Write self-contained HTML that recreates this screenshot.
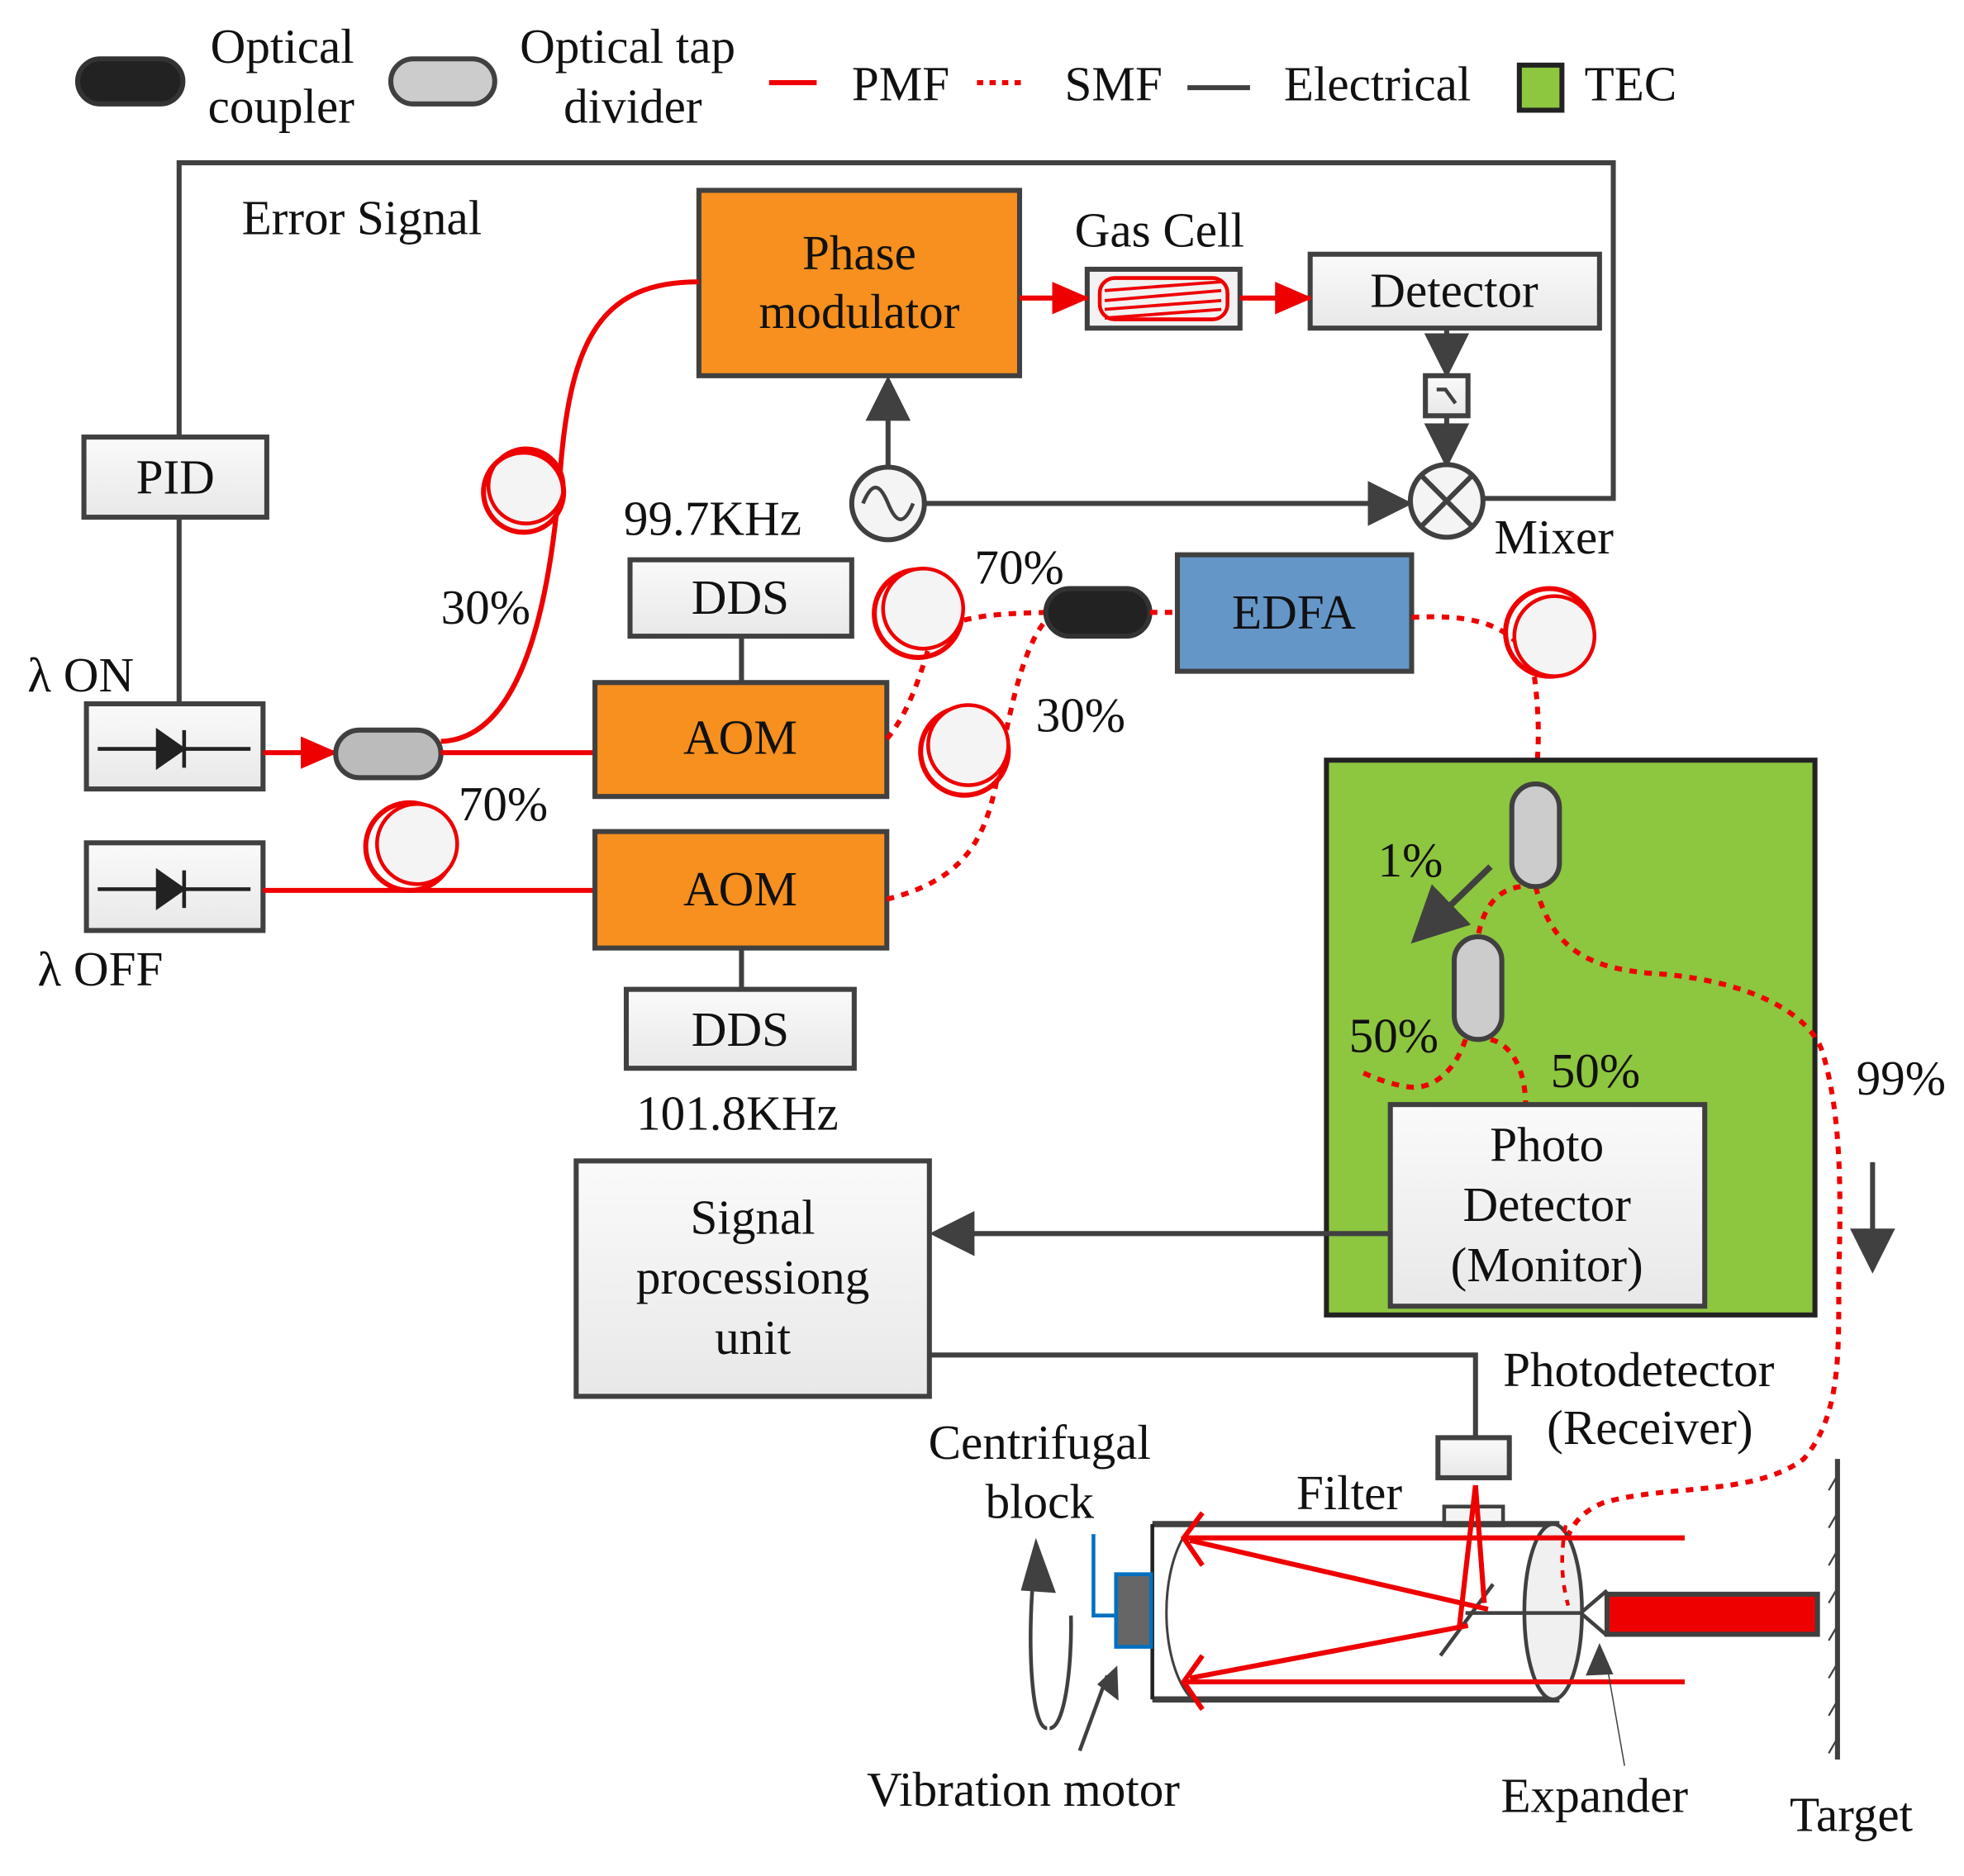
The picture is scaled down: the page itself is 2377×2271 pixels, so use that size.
<!DOCTYPE html>
<html><head><meta charset="utf-8"><style>
html,body{margin:0;padding:0;background:#fff;}
svg{display:block;}
text{font-family:"Liberation Serif",serif;font-size:39px;fill:#111;}
</style></head><body>
<svg width="2377" height="2271" viewBox="0 0 1568 1498" preserveAspectRatio="none" xmlns="http://www.w3.org/2000/svg">
<defs>
<marker id="ra" markerWidth="30" markerHeight="30" refX="28" refY="15" orient="auto" markerUnits="userSpaceOnUse" viewBox="0 0 30 30"><path d="M0,2 L30,15 L0,28 z" fill="#e00"/></marker>
<marker id="da" markerWidth="9" markerHeight="9" refX="8" refY="4.5" orient="auto" viewBox="0 0 9 9"><path d="M0,0 L9,4.5 L0,9 z" fill="#404040"/></marker>
<linearGradient id="gbox" x1="0" y1="0" x2="0" y2="1"><stop offset="0" stop-color="#fafafa"/><stop offset="1" stop-color="#e8e8e8"/></linearGradient>
</defs>
<!-- legend -->
<rect x="62" y="47" width="84" height="36" rx="18" fill="#222" stroke="#333" stroke-width="4"/>
<text x="168" y="50">Optical</text><text x="166" y="98">coupler</text>
<rect x="312" y="47" width="83" height="36" rx="18" fill="#ccc" stroke="#404040" stroke-width="4"/>
<text x="415" y="50">Optical tap</text><text x="450" y="98">divider</text>
<line x1="614" y1="66" x2="652" y2="66" stroke="#e00" stroke-width="4"/>
<text x="680" y="80">PMF</text>
<line x1="780" y1="66" x2="818" y2="66" stroke="#e00" stroke-width="4" stroke-dasharray="5,5"/>
<text x="850" y="80">SMF</text>
<line x1="948" y1="70" x2="998" y2="70" stroke="#404040" stroke-width="4"/>
<text x="1025" y="80">Electrical</text>
<rect x="1213" y="52" width="34" height="36" fill="#8dc63f" stroke="#222" stroke-width="4"/>
<text x="1265" y="80">TEC</text>

<!-- feedback loop -->
<polyline points="143,348 143,130 1288,130 1288,398 1185,398" fill="none" stroke="#404040" stroke-width="4"/>
<text x="193" y="187">Error Signal</text>

<!-- phase modulator -->
<rect x="558" y="152" width="256" height="148" fill="#f7901e" stroke="#404040" stroke-width="4"/>
<text x="686" y="215" text-anchor="middle">Phase</text><text x="686" y="262" text-anchor="middle">modulator</text>
<text x="858" y="197">Gas Cell</text>
<rect x="868" y="215" width="122" height="47" fill="#f2f2f2" stroke="#404040" stroke-width="4"/>
<rect x="878" y="222" width="102" height="33" rx="12" fill="none" stroke="#e00" stroke-width="3"/>
<path d="M882,232 L975,225 M882,240 L975,232 M882,247 L975,240 M882,254 L975,247" stroke="#e00" stroke-width="2.5"/>
<rect x="1046" y="203" width="231" height="59" fill="url(#gbox)" stroke="#404040" stroke-width="4"/>
<text x="1161" y="245" text-anchor="middle">Detector</text>
<line x1="814" y1="238" x2="868" y2="238" stroke="#e00" stroke-width="4" marker-end="url(#ra)"/>
<line x1="990" y1="238" x2="1046" y2="238" stroke="#e00" stroke-width="4" marker-end="url(#ra)"/>
<line x1="1155" y1="262" x2="1155" y2="298" stroke="#404040" stroke-width="4" marker-end="url(#da)"/>
<rect x="1138" y="300" width="34" height="32" fill="url(#gbox)" stroke="#404040" stroke-width="4"/>
<path d="M1147,311 L1154,311 L1162,322" fill="none" stroke="#404040" stroke-width="3"/>
<line x1="1155" y1="332" x2="1155" y2="370" stroke="#404040" stroke-width="4" marker-end="url(#da)"/>
<circle cx="1155" cy="400" r="29" fill="#f4f4f4" stroke="#404040" stroke-width="4"/>
<path d="M1135,380 L1175,420 M1175,380 L1135,420" stroke="#404040" stroke-width="4"/>
<text x="1193" y="442">Mixer</text>
<circle cx="709" cy="402" r="29" fill="#f4f4f4" stroke="#404040" stroke-width="4"/>
<path d="M689,402 C696,385 702,385 709,402 C716,419 722,419 729,402" fill="none" stroke="#404040" stroke-width="3"/>
<line x1="709" y1="372" x2="709" y2="304" stroke="#404040" stroke-width="4" marker-end="url(#da)"/>
<line x1="738" y1="402" x2="1124" y2="402" stroke="#404040" stroke-width="4" marker-end="url(#da)"/>

<!-- PID & lasers -->
<rect x="67" y="349" width="146" height="64" fill="url(#gbox)" stroke="#404040" stroke-width="4"/>
<text x="140" y="394" text-anchor="middle">PID</text>
<line x1="143" y1="413" x2="143" y2="562" stroke="#404040" stroke-width="4"/>
<text x="22" y="552">λ ON</text>
<rect x="69" y="562" width="141" height="68" fill="url(#gbox)" stroke="#404040" stroke-width="4"/>
<path d="M78,598 L200,598" stroke="#222" stroke-width="3"/><path d="M126,584 L146,598 L126,612 z M147,583 L147,613" fill="#222" stroke="#222" stroke-width="3"/>
<text x="30" y="787">λ OFF</text>
<rect x="69" y="673" width="141" height="70" fill="url(#gbox)" stroke="#404040" stroke-width="4"/>
<path d="M78,710 L200,710" stroke="#222" stroke-width="3"/><path d="M126,696 L146,710 L126,724 z M147,695 L147,725" fill="#222" stroke="#222" stroke-width="3"/>
<line x1="210" y1="601" x2="268" y2="601" stroke="#e00" stroke-width="4" marker-end="url(#ra)"/>
<rect x="268" y="583" width="84" height="38" rx="19" fill="#bbb" stroke="#404040" stroke-width="4"/>
<line x1="352" y1="601" x2="475" y2="601" stroke="#e00" stroke-width="4"/>
<path d="M352,592 C420,590 440,470 447,380 C455,270 480,225 558,225" fill="none" stroke="#e00" stroke-width="4"/>
<circle cx="418" cy="393" r="32" fill="#f4f4f4" stroke="#e00" stroke-width="4"/>
<circle cx="420" cy="388" r="30" fill="none" stroke="#e00" stroke-width="3"/>
<text x="352" y="498">30%</text>
<line x1="210" y1="711" x2="475" y2="711" stroke="#e00" stroke-width="4"/>
<circle cx="327" cy="676" r="35" fill="none" stroke="#e00" stroke-width="4"/>
<circle cx="333" cy="674" r="32" fill="#f4f4f4" stroke="#e00" stroke-width="3"/>
<text x="366" y="655">70%</text>

<!-- AOMs / DDS -->
<text x="498" y="427">99.7KHz</text>
<rect x="503" y="447" width="177" height="61" fill="url(#gbox)" stroke="#404040" stroke-width="4"/>
<text x="591" y="490" text-anchor="middle">DDS</text>
<line x1="592" y1="508" x2="592" y2="545" stroke="#404040" stroke-width="4"/>
<rect x="475" y="545" width="233" height="91" fill="#f7901e" stroke="#404040" stroke-width="4"/>
<text x="591" y="602" text-anchor="middle">AOM</text>
<rect x="475" y="664" width="233" height="93" fill="#f7901e" stroke="#404040" stroke-width="4"/>
<text x="591" y="723" text-anchor="middle">AOM</text>
<line x1="592" y1="757" x2="592" y2="790" stroke="#404040" stroke-width="4"/>
<rect x="500" y="790" width="182" height="63" fill="url(#gbox)" stroke="#404040" stroke-width="4"/>
<text x="591" y="835" text-anchor="middle">DDS</text>
<text x="508" y="902">101.8KHz</text>

<!-- SMF combining -->
<path d="M708,590 C725,570 735,540 745,505 C770,490 805,490 835,489" fill="none" stroke="#e00" stroke-width="4" stroke-dasharray="6,6"/>
<circle cx="733" cy="490" r="35" fill="none" stroke="#e00" stroke-width="4"/>
<circle cx="737" cy="486" r="32" fill="#f4f4f4" stroke="#e00" stroke-width="3"/>
<path d="M708,718 C780,700 790,660 800,600 C810,550 820,510 838,492" fill="none" stroke="#e00" stroke-width="4" stroke-dasharray="6,6"/>
<circle cx="770" cy="600" r="35" fill="none" stroke="#e00" stroke-width="4"/>
<circle cx="773" cy="595" r="32" fill="#f4f4f4" stroke="#e00" stroke-width="3"/>
<text x="778" y="466">70%</text>
<text x="827" y="584">30%</text>
<rect x="835" y="470" width="83" height="38" rx="19" fill="#222" stroke="#333" stroke-width="4"/>
<line x1="918" y1="489" x2="940" y2="489" stroke="#e00" stroke-width="4" stroke-dasharray="6,6"/>
<rect x="940" y="443" width="187" height="93" fill="#6596c8" stroke="#404040" stroke-width="4"/>
<text x="1033" y="502" text-anchor="middle">EDFA</text>
<path d="M1127,493 C1180,490 1215,500 1225,540 C1230,580 1228,600 1226,626" fill="none" stroke="#e00" stroke-width="4" stroke-dasharray="6,6"/>
<circle cx="1237" cy="505" r="35" fill="none" stroke="#e00" stroke-width="4"/>
<circle cx="1241" cy="508" r="32" fill="#f4f4f4" stroke="#e00" stroke-width="3"/>

<!-- TEC -->
<rect x="1059" y="607" width="390" height="443" fill="#8dc63f" stroke="#222" stroke-width="4"/>
<path d="M1226,708 C1200,705 1185,720 1180,748" fill="none" stroke="#e00" stroke-width="4" stroke-dasharray="6,6"/>
<path d="M1226,708 C1240,760 1270,775 1330,778 C1400,785 1445,810 1455,840 C1470,890 1470,950 1468,1020 C1468,1080 1470,1130 1440,1165 C1400,1195 1330,1185 1280,1200 C1255,1210 1245,1230 1245,1270" fill="none" stroke="#e00" stroke-width="4" stroke-dasharray="6,6"/>
<rect x="1207" y="626" width="38" height="82" rx="19" fill="#ccc" stroke="#404040" stroke-width="4"/>
<rect x="1161" y="748" width="38" height="82" rx="19" fill="#ccc" stroke="#404040" stroke-width="4"/>
<line x1="1190" y1="692" x2="1130" y2="750" stroke="#404040" stroke-width="5" marker-end="url(#da)"/>
<text x="1100" y="700">1%</text>
<path d="M1170,830 C1160,860 1140,870 1125,868 C1110,866 1095,860 1085,855" fill="none" stroke="#e00" stroke-width="4" stroke-dasharray="6,6"/>
<path d="M1190,830 C1210,835 1218,860 1218,882" fill="none" stroke="#e00" stroke-width="4" stroke-dasharray="6,6"/>
<text x="1077" y="840">50%</text>
<text x="1238" y="868">50%</text>
<rect x="1110" y="882" width="251" height="161" fill="url(#gbox)" stroke="#404040" stroke-width="4"/>
<text x="1235" y="927" text-anchor="middle">Photo</text>
<text x="1235" y="975" text-anchor="middle">Detector</text>
<text x="1235" y="1023" text-anchor="middle">(Monitor)</text>
<text x="1482" y="874">99%</text>
<line x1="1495" y1="928" x2="1495" y2="1013" stroke="#404040" stroke-width="4" marker-end="url(#da)"/>

<!-- signal processing -->
<rect x="460" y="927" width="282" height="188" fill="url(#gbox)" stroke="#404040" stroke-width="4"/>
<text x="601" y="985" text-anchor="middle">Signal</text>
<text x="601" y="1033" text-anchor="middle">processiong</text>
<text x="601" y="1081" text-anchor="middle">unit</text>
<line x1="1110" y1="985" x2="746" y2="985" stroke="#404040" stroke-width="4" marker-end="url(#da)"/>
<polyline points="742,1082 1178,1082 1178,1148" fill="none" stroke="#404040" stroke-width="4"/>
<rect x="1148" y="1148" width="57" height="32" fill="url(#gbox)" stroke="#404040" stroke-width="4"/>
<rect x="1153" y="1203" width="47" height="15" fill="#f4f4f4" stroke="#404040" stroke-width="3"/>
<text x="1200" y="1107">Photodetector</text>
<text x="1235" y="1153">(Receiver)</text>

<!-- telescope -->
<text x="830" y="1165" text-anchor="middle">Centrifugal</text>
<text x="830" y="1212" text-anchor="middle">block</text>
<text x="1035" y="1205">Filter</text>
<path d="M920,1217 L1245,1217 M920,1357 L1245,1357" stroke="#404040" stroke-width="5"/>
<line x1="920" y1="1217" x2="920" y2="1357" stroke="#222" stroke-width="3"/>
<path d="M950,1220 C925,1250 925,1325 950,1355" fill="none" stroke="#404040" stroke-width="2"/>
<ellipse cx="1240" cy="1287" rx="23" ry="70" fill="#f0f0f0" stroke="#404040" stroke-width="3"/>
<path d="M1250,1218 C1246,1240 1246,1260 1252,1282" fill="none" stroke="#e00" stroke-width="3" stroke-dasharray="6,6"/>
<line x1="1170" y1="1288" x2="1262" y2="1288" stroke="#404040" stroke-width="3"/>
<path d="M1262,1288 L1283,1270 M1262,1288 L1283,1306" stroke="#404040" stroke-width="3"/>
<rect x="1283" y="1273" width="168" height="32" fill="#e00" stroke="#404040" stroke-width="4"/>
<line x1="1192" y1="1265" x2="1150" y2="1322" stroke="#404040" stroke-width="3"/>
<g stroke="#e00" stroke-width="4" fill="none">
<line x1="1345" y1="1228" x2="945" y2="1228"/>
<line x1="1345" y1="1343" x2="945" y2="1343"/>
<path d="M960,1208 L945,1228 L960,1250 M960,1322 L945,1343 L960,1365"/>
<line x1="950" y1="1230" x2="1188" y2="1285"/>
<line x1="950" y1="1340" x2="1172" y2="1298"/>
<line x1="1178" y1="1186" x2="1185" y2="1280"/>
<line x1="1178" y1="1186" x2="1165" y2="1300"/>
</g>
<line x1="1467" y1="1165" x2="1467" y2="1405" stroke="#404040" stroke-width="4"/>
<path d="M1460,1190 l7,-12 M1460,1220 l7,-12 M1460,1250 l7,-12 M1460,1280 l7,-12 M1460,1310 l7,-12 M1460,1340 l7,-12 M1460,1370 l7,-12 M1460,1400 l7,-12" stroke="#404040" stroke-width="1.5"/>
<path d="M873,1225 L873,1290 L891,1290" fill="none" stroke="#0070c0" stroke-width="3"/>
<rect x="891" y="1257" width="28" height="58" fill="#666" stroke="#0070c0" stroke-width="3"/>
<path d="M836,1380 C822,1380 820,1300 826,1250 M838,1380 C850,1380 856,1330 855,1290" fill="none" stroke="#404040" stroke-width="3"/>
<path d="M815,1270 L827,1228 L843,1272 z" fill="#404040"/>
<line x1="862" y1="1398" x2="884" y2="1338" stroke="#404040" stroke-width="3"/>
<path d="M876,1345 L892,1330 L893,1358 z" fill="#404040"/>
<line x1="1297" y1="1410" x2="1283" y2="1330" stroke="#404040" stroke-width="1"/>
<path d="M1266,1338 L1277,1312 L1288,1337 z" fill="#404040"/>
<text x="817" y="1442" text-anchor="middle">Vibration motor</text>
<text x="1273" y="1447" text-anchor="middle">Expander</text>
<text x="1478" y="1462" text-anchor="middle">Target</text>
</svg>
</body></html>
